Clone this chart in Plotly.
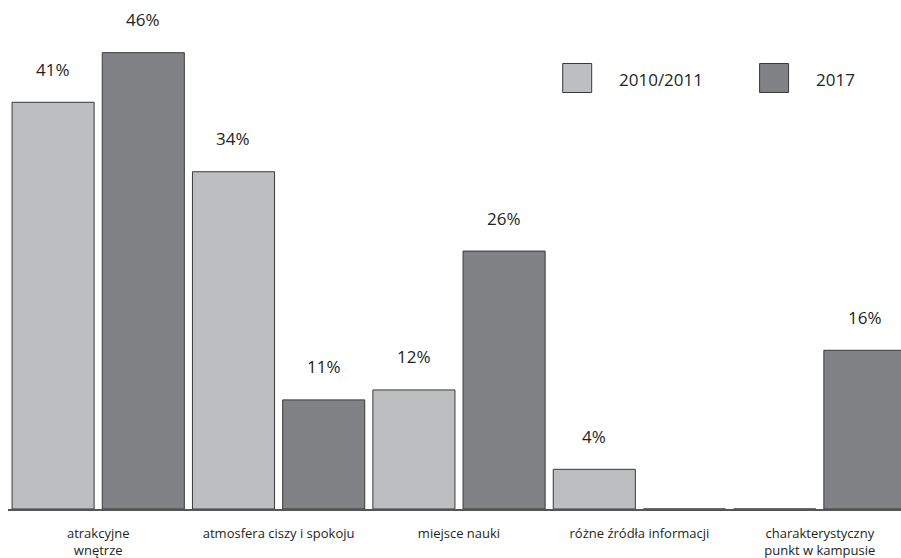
import plotly.graph_objects as go

categories = ["atrakcyjne<br>wnętrze", "atmosfera ciszy i spokoju", "miejsce nauki",
              "różne źródła informacji", "charakterystyczny<br>punkt w kampusie"]
series_names = ["2010/2011", "2017"]
values_2010 = [41, 34, 12, 4, 0]
values_2017 = [46, 11, 26, 0, 16]

FONT = "Open Sans"
TEXT = "#231f20"
LIGHT = "#bcbec0"
DARK = "#808285"
EDGE = "#3a3a3a"

W, H = 901, 558
ML, MR, MT, MB = 7.5, 0, 13, 49
plot_w = W - ML - MR
cat_px = 180.5

fig = go.Figure()
for name, vals, col in [(series_names[0], values_2010, LIGHT), (series_names[1], values_2017, DARK)]:
    fig.add_trace(go.Bar(x=categories, y=vals, name=name, marker=dict(color=col, line=dict(color=EDGE, width=1)),
                         showlegend=False, hoverinfo="x+y"))

slot_half = cat_px / 4
for vals, sh in [(values_2010, -slot_half), (values_2017, slot_half)]:
    for c, v in zip(categories, vals):
        if v > 0:
            fig.add_annotation(x=c, y=v, text=f"{v}%", showarrow=False, xshift=sh, yshift=33,
                               yanchor="middle", font=dict(family=FONT, size=17, color=TEXT))

# legend drawn as boxes + labels
def px_to_paper_x(px):
    return (px - ML) / plot_w

def py_to_paper_y(py):
    return (H - MB - py) / (H - MT - MB)

for (x0, tx), name, col in [((562.5, 617), series_names[0], LIGHT), ((759.5, 814), series_names[1], DARK)]:
    fig.add_shape(type="rect", xref="paper", yref="paper",
                  x0=px_to_paper_x(x0), x1=px_to_paper_x(x0 + 29),
                  y0=py_to_paper_y(92.5), y1=py_to_paper_y(63.5),
                  fillcolor=col, line=dict(color=EDGE, width=1))
    fig.add_annotation(xref="paper", yref="paper", x=px_to_paper_x(tx), y=py_to_paper_y(79),
                       text=name, showarrow=False, xanchor="left", yanchor="middle",
                       font=dict(family=FONT, size=17, color=TEXT))

fig.update_layout(
    width=W, height=H, paper_bgcolor="white", plot_bgcolor="white",
    margin=dict(l=ML, r=MR, t=MT, b=MB, autoexpand=False),
    barmode="group", bargap=0.0, bargroupgap=0.09,
    font=dict(family=FONT, size=13, color=TEXT),
    showlegend=False,
)
fig.update_xaxes(range=[-0.5, -0.5 + plot_w / cat_px], showline=True, linecolor="#555555", linewidth=1.5,
                 ticks="", showgrid=False, ticklabelstandoff=12,
                 tickfont=dict(family=FONT, size=13, color=TEXT))
fig.update_yaxes(range=[0, 50], visible=False, showgrid=False, zeroline=False)

fig.write_html("out.html", config={"displayModeBar": False},
               post_script="document.body.style.margin='0';document.body.style.overflow='hidden';")
